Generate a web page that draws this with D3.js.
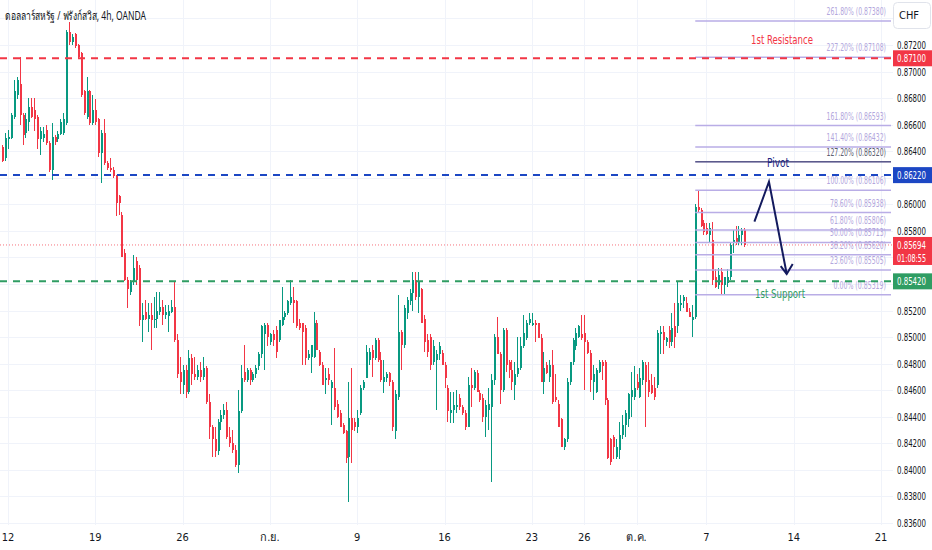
<!DOCTYPE html>
<html>
<head>
<meta charset="utf-8">
<script src="https://cdn.jsdelivr.net/npm/d3@7"></script>
<style>
  body { margin: 0; background: #fff; }
  svg { display: block; font-family: "Noto Sans", "DejaVu Sans", sans-serif; }
  .narrow { font-family: "Liberation Sans Narrow", "DejaVu Sans Condensed", "Liberation Sans", sans-serif; }
</style>
</head>
<body>
<div id="chart-container"></div>
<script>
// USDCHF 4h candles, [open, high, low, close]
const ohlc = [
  [.8643,.8645,.8632,.8633],[.8635,.8654,.8633,.8650],[.8649,.8656,.8642,.8651],[.8650,.8669,.8649,.8667],
  [.8666,.8694,.8664,.8685],[.8682,.8696,.8679,.8694],[.8691,.8711,.8660,.8667],[.8667,.8669,.8645,.8652],
  [.8654,.8669,.8650,.8664],[.8662,.8680,.8655,.8673],[.8673,.8680,.8665,.8666],[.8671,.8680,.8655,.8664],
  [.8666,.8667,.8642,.8649],[.8649,.8658,.8637,.8655],[.8650,.8658,.8647,.8653],[.8656,.8660,.8645,.8646],
  [.8646,.8648,.8624,.8626],[.8626,.8661,.8618,.8651],[.8651,.8652,.8645,.8647],[.8649,.8655,.8647,.8653],
  [.8653,.8664,.8652,.8662],[.8654,.8669,.8652,.8664],[.8661,.8731,.8660,.8730],[.8730,.8737,.8720,.8722],
  [.8722,.8728,.8720,.8726],[.8728,.8729,.8718,.8719],[.8720,.8721,.8710,.8711],[.8714,.8715,.8681,.8682],
  [.8685,.8686,.8667,.8669],[.8666,.8696,.8664,.8685],[.8685,.8686,.8660,.8661],[.8661,.8682,.8660,.8671],
  [.8671,.8679,.8660,.8662],[.8664,.8665,.8636,.8639],[.8639,.8656,.8616,.8654],[.8654,.8664,.8630,.8631],
  [.8631,.8633,.8626,.8627],[.8627,.8635,.8624,.8626],[.8626,.8628,.8620,.8621],[.8621,.8622,.8591,.8601],
  [.8606,.8607,.8592,.8601],[.8592,.8594,.8560,.8560],[.8563,.8566,.8542,.8543],[.8543,.8545,.8522,.8536],
  [.8534,.8543,.8532,.8542],[.8542,.8562,.8539,.8552],[.8557,.8560,.8539,.8543],[.8552,.8554,.8508,.8513],
  [.8513,.8526,.8496,.8517],[.8519,.8528,.8513,.8514],[.8514,.8526,.8504,.8517],[.8517,.8526,.8490,.8513],
  [.8513,.8530,.8507,.8514],[.8514,.8534,.8507,.8520],[.8519,.8534,.8517,.8523],[.8523,.8528,.8509,.8517],
  [.8517,.8524,.8514,.8519],[.8516,.8524,.8504,.8520],[.8519,.8528,.8518,.8523],[.8523,.8542,.8496,.8498],
  [.8498,.8502,.8469,.8472],[.8474,.8485,.8457,.8466],[.8464,.8479,.8457,.8475],[.8475,.8479,.8454,.8459],
  [.8459,.8490,.8457,.8484],[.8484,.8487,.8464,.8472],[.8472,.8485,.8468,.8470],[.8470,.8479,.8468,.8475],
  [.8475,.8481,.8466,.8470],[.8470,.8485,.8468,.8477],[.8477,.8478,.8450,.8451],[.8451,.8457,.8423,.8432],
  [.8432,.8434,.8410,.8423],[.8423,.8432,.8410,.8414],[.8414,.8438,.8411,.8436],[.8436,.8445,.8430,.8441],
  [.8441,.8450,.8438,.8445],[.8445,.8451,.8423,.8425],[.8425,.8432,.8417,.8420],[.8420,.8430,.8413,.8415],
  [.8415,.8419,.8402,.8404],[.8404,.8460,.8398,.8444],[.8444,.8479,.8443,.8469],[.8474,.8494,.8466,.8468],
  [.8468,.8477,.8466,.8475],[.8475,.8477,.8464,.8468],[.8468,.8474,.8466,.8472],[.8472,.8479,.8469,.8477],
  [.8478,.8489,.8475,.8487],[.8487,.8509,.8484,.8508],[.8502,.8511,.8475,.8509],[.8509,.8511,.8493,.8500],
  [.8496,.8503,.8494,.8502],[.8502,.8505,.8493,.8498],[.8505,.8508,.8484,.8489],[.8498,.8513,.8496,.8513],
  [.8509,.8538,.8508,.8515],[.8515,.8520,.8513,.8518],[.8518,.8528,.8517,.8527],[.8526,.8543,.8524,.8530],
  [.8528,.8538,.8511,.8526],[.8527,.8528,.8507,.8508],[.8511,.8514,.8505,.8507],[.8511,.8511,.8479,.8504],
  [.8507,.8509,.8479,.8484],[.8484,.8490,.8483,.8487],[.8485,.8494,.8473,.8494],[.8485,.8519,.8484,.8511],
  [.8511,.8513,.8490,.8490],[.8489,.8490,.8478,.8479],[.8479,.8481,.8464,.8464],[.8468,.8477,.8457,.8469],
  [.8472,.8477,.8464,.8468],[.8462,.8468,.8434,.8466],[.8462,.8492,.8445,.8447],[.8450,.8453,.8439,.8440],
  [.8443,.8445,.8432,.8432],[.8434,.8435,.8427,.8428],[.8429,.8430,.8405,.8409],[.8410,.8466,.8376,.8439],
  [.8439,.8477,.8405,.8430],[.8436,.8439,.8429,.8432],[.8432,.8445,.8428,.8439],[.8443,.8464,.8441,.8462],
  [.8462,.8468,.8460,.8466],[.8469,.8494,.8469,.8489],[.8483,.8492,.8479,.8489],[.8490,.8494,.8470,.8484],
  [.8484,.8499,.8483,.8498],[.8498,.8499,.8481,.8483],[.8483,.8489,.8466,.8468],[.8466,.8483,.8458,.8470],
  [.8469,.8474,.8466,.8472],[.8473,.8474,.8463,.8466],[.8466,.8468,.8429,.8432],[.8429,.8460,.8423,.8457],
  [.8455,.8532,.8453,.8504],[.8504,.8505,.8475,.8494],[.8494,.8524,.8492,.8522],[.8518,.8530,.8514,.8528],
  [.8527,.8536,.8524,.8533],[.8533,.8549,.8520,.8543],[.8543,.8549,.8528,.8530],[.8530,.8549,.8518,.8542],
  [.8536,.8537,.8511,.8511],[.8514,.8517,.8489,.8496],[.8498,.8502,.8485,.8489],[.8500,.8502,.8475,.8479],
  [.8481,.8498,.8479,.8493],[.8483,.8490,.8445,.8487],[.8487,.8496,.8483,.8493],[.8488,.8490,.8479,.8479],
  [.8479,.8481,.8462,.8469],[.8462,.8464,.8436,.8444],[.8443,.8459,.8435,.8445],[.8445,.8459,.8435,.8449],
  [.8447,.8460,.8443,.8449],[.8454,.8457,.8445,.8447],[.8447,.8449,.8441,.8443],[.8443,.8445,.8430,.8432],
  [.8432,.8470,.8432,.8464],[.8464,.8477,.8447,.8462],[.8462,.8475,.8460,.8474],[.8473,.8475,.8459,.8459],
  [.8458,.8460,.8451,.8453],[.8454,.8457,.8436,.8440],[.8440,.8453,.8425,.8449],[.8445,.8462,.8430,.8450],
  [.8447,.8472,.8391,.8468],[.8468,.8502,.8464,.8500],[.8500,.8515,.8487,.8487],[.8487,.8489,.8450,.8460],
  [.8460,.8507,.8459,.8505],[.8505,.8507,.8474,.8479],[.8481,.8483,.8469,.8475],[.8475,.8483,.8460,.8466],
  [.8464,.8481,.8453,.8472],[.8472,.8500,.8470,.8477],[.8477,.8500,.8475,.8493],[.8493,.8517,.8492,.8503],
  [.8499,.8513,.8498,.8511],[.8511,.8518,.8509,.8514],[.8509,.8518,.8508,.8511],[.8511,.8513,.8496,.8509],
  [.8511,.8511,.8499,.8499],[.8499,.8502,.8466,.8466],[.8466,.8489,.8457,.8477],[.8479,.8481,.8472,.8473],
  [.8470,.8483,.8466,.8479],[.8479,.8490,.8450,.8451],[.8455,.8472,.8451,.8453],[.8450,.8453,.8432,.8432],
  [.8438,.8439,.8417,.8417],[.8417,.8424,.8415,.8423],[.8423,.8469,.8421,.8466],[.8466,.8481,.8464,.8481],
  [.8481,.8499,.8479,.8498],[.8493,.8507,.8490,.8503],[.8500,.8509,.8499,.8508],[.8502,.8517,.8498,.8499],
  [.8503,.8517,.8460,.8496],[.8496,.8498,.8487,.8488],[.8488,.8490,.8459,.8468],[.8466,.8479,.8453,.8472],
  [.8459,.8477,.8458,.8475],[.8474,.8483,.8473,.8481],[.8481,.8483,.8468,.8478],[.8481,.8483,.8449,.8453],
  [.8453,.8454,.8408,.8409],[.8423,.8424,.8404,.8406],[.8425,.8426,.8408,.8417],[.8410,.8423,.8408,.8417],
  [.8415,.8436,.8408,.8426],[.8426,.8441,.8423,.8434],[.8434,.8445,.8425,.8443],[.8438,.8458,.8432,.8457],
  [.8455,.8474,.8440,.8460],[.8455,.8478,.8453,.8462],[.8466,.8472,.8460,.8462],[.8455,.8477,.8454,.8469],
  [.8468,.8483,.8464,.8481],[.8479,.8481,.8432,.8466],[.8468,.8481,.8455,.8459],[.8464,.8472,.8457,.8458],
  [.8462,.8470,.8453,.8455],[.8464,.8505,.8462,.8503],[.8502,.8508,.8487,.8504],[.8504,.8508,.8487,.8498],
  [.8496,.8500,.8493,.8499],[.8505,.8508,.8492,.8496],[.8496,.8518,.8493,.8507],[.8508,.8526,.8492,.8500],
  [.8508,.8542,.8503,.8526],[.8524,.8532,.8520,.8526],[.8527,.8532,.8522,.8530],[.8526,.8530,.8519,.8519],
  [.8519,.8522,.8515,.8515],[.8513,.8524,.8500,.8515],[.8515,.8600,.8514,.8598],[.8598,.8611,.8594,.8596],
  [.8596,.8597,.8583,.8584],[.8586,.8588,.8577,.8579],[.8582,.8586,.8577,.8578],[.8577,.8586,.8571,.8582],
  [.8573,.8587,.8539,.8543],[.8545,.8551,.8537,.8538],[.8539,.8552,.8536,.8547],[.8549,.8552,.8532,.8539],
  [.8539,.8543,.8532,.8545],[.8541,.8551,.8538,.8545],[.8545,.8571,.8543,.8569],[.8571,.8581,.8563,.8573],
  [.8575,.8584,.8569,.8572],[.8572,.8584,.8569,.8577],[.8577,.8582,.8569,.8581],[.8581,.8582,.8568,.85694]
];

// date labels and the bar index they sit on
const dateLabels = ["12", "19", "26", "ก.ย.", "9", "16", "23", "26", "ต.ค.", "7", "14", "21"];
const dateBars = [2, 32, 62, 92, 122, 152, 182, 200, 218, 242, 272, 302];

const priceTicks = [0.836, 0.838, 0.840, 0.842, 0.844, 0.846, 0.848, 0.850, 0.852, 0.854, 0.856,
  0.858, 0.860, 0.862, 0.864, 0.866, 0.868, 0.870, 0.872, 0.874];
const hiddenTicks = [0.854, 0.856, 0.862, 0.874];

const levelNames = ["1st Resistance", "Pivot", "1st Support"];
const levelPrices = [0.87100, 0.86220, 0.85420];
const levelColors = ["#f23645", "#1c47c4", "#2f9d63"];

const fibRatios = ["261.80%", "227.20%", "161.80%", "141.40%", "127.20%", "100.00%",
  "78.60%", "61.80%", "50.00%", "38.20%", "23.60%", "0.00%"];
const fibPrices = [0.87380, 0.87108, 0.86593, 0.86432, 0.86320, 0.86106,
  0.85938, 0.85806, 0.85713, 0.85620, 0.85505, 0.85319];
const fibStartBar = 238;

const lastPrice = 0.85694;
const countdown = "01:08:55";

// arrow drawing anchor points: [bar, price]
const arrowPoints = [[258.5, 0.8587], [263.5, 0.8617], [269.6, 0.85475]];

const W = 932, H = 550;
const plotRight = 893, plotBottom = 525;
const green = "#089981", red = "#f23645";

const svg = d3.select("#chart-container").append("svg")
  .attr("width", W).attr("height", H);

const y = d3.scaleLinear().domain([0.836, 0.872]).range([523, 45]);
const x = d3.scaleLinear().domain([0, 255]).range([2.18, 2.18 + 2.91 * 255]);

svg.append("clipPath").attr("id", "plot")
  .append("rect").attr("width", plotRight).attr("height", plotBottom);

const plot = svg.append("g").attr("clip-path", "url(#plot)");

// grid
plot.selectAll(".hgrid").data(priceTicks).join("line")
  .attr("x1", 0).attr("x2", plotRight)
  .attr("y1", d => Math.round(y(d)) + 0.5).attr("y2", d => Math.round(y(d)) + 0.5)
  .attr("stroke", "#f0f3fa");
plot.selectAll(".vgrid").data(dateBars).join("line")
  .attr("x1", d => Math.round(x(d)) + 0.5).attr("x2", d => Math.round(x(d)) + 0.5)
  .attr("y1", 0).attr("y2", plotBottom)
  .attr("stroke", "#f0f3fa");

// current price line
plot.append("line")
  .attr("x1", 0).attr("x2", plotRight)
  .attr("y1", y(lastPrice)).attr("y2", y(lastPrice))
  .attr("stroke", red).attr("stroke-opacity", 0.7)
  .attr("stroke-dasharray", "1,2");

// candles
const candle = plot.selectAll(".candle").data(ohlc).join("g")
  .attr("shape-rendering", "crispEdges");

candle.append("line")
  .attr("x1", (d, i) => Math.round(x(i)) + 0.5)
  .attr("x2", (d, i) => Math.round(x(i)) + 0.5)
  .attr("y1", d => y(d[1])).attr("y2", d => y(d[2]))
  .attr("stroke", d => d[3] >= d[0] ? green : red);

candle.append("rect")
  .attr("x", (d, i) => Math.round(x(i)))
  .attr("width", 2)
  .attr("y", d => y(Math.max(d[0], d[3])))
  .attr("height", d => Math.max(1, Math.abs(y(d[0]) - y(d[3]))))
  .attr("fill", d => d[3] >= d[0] ? green : red);

// fib levels
const fibX1 = x(fibStartBar) + 0.5;
const fibX2 = 891;
plot.selectAll(".fib").data(fibPrices).join("line")
  .attr("x1", fibX1).attr("x2", fibX2)
  .attr("y1", d => y(d)).attr("y2", d => y(d))
  .attr("stroke", "#b9ade6").attr("stroke-width", 1.5);

const fibText = (d, i) => `${fibRatios[i]} (${d.toFixed(5)})`;
plot.selectAll(".fibLabel").data(fibPrices).join("text")
  .attr("class", "narrow")
  .attr("x", 886).attr("y", d => y(d) - 6)
  .attr("text-anchor", "end")
  .attr("textLength", (d, i) => fibText(d, i).length * 3.5)
  .attr("lengthAdjust", "spacingAndGlyphs")
  .style("font-size", "10px")
  .style("fill", (d, i) => fibRatios[i] === "127.20%" ? "#5d6070" : "#b3a7dd")
  .text(fibText);

// pivot line drawn over the 127.2% level
plot.append("line")
  .attr("x1", fibX1).attr("x2", fibX2)
  .attr("y1", y(0.8632)).attr("y2", y(0.8632))
  .attr("stroke", "#2a2e5c").attr("stroke-width", 1);

// support / resistance dashed levels
plot.selectAll(".level").data(levelPrices).join("line")
  .attr("x1", 0).attr("x2", plotRight)
  .attr("y1", d => y(d)).attr("y2", d => y(d))
  .attr("stroke", (d, i) => levelColors[i])
  .attr("stroke-width", 2)
  .attr("stroke-dasharray", "7,6");

// level names
const levelLabelPos = [[782, 44], [778, 167], [780, 298]];
const levelLabelLen = [62, 22, 50];
plot.selectAll(".levelName").data(levelNames).join("text")
  .attr("class", "narrow")
  .attr("x", (d, i) => levelLabelPos[i][0])
  .attr("y", (d, i) => levelLabelPos[i][1])
  .attr("text-anchor", "middle")
  .attr("textLength", (d, i) => levelLabelLen[i])
  .attr("lengthAdjust", "spacingAndGlyphs")
  .style("font-size", "13px")
  .style("fill", (d, i) => i === 1 ? "#1a237e" : levelColors[i])
  .text(d => d);

// arrow
const arrowPath = arrowPoints.map(p => [x(p[0]), y(p[1])]);
plot.append("path")
  .attr("d", d3.line()(arrowPath))
  .attr("fill", "none").attr("stroke", "#131a5e").attr("stroke-width", 2)
  .attr("stroke-linejoin", "miter");
const tip = arrowPath[2];
plot.append("path")
  .attr("d", d3.line()([[tip[0] - 6, tip[1] - 8], tip, [tip[0] + 6, tip[1] - 10]]))
  .attr("fill", "none").attr("stroke", "#131a5e").attr("stroke-width", 2);

// title
svg.append("text")
  .attr("x", 5).attr("y", 20)
  .attr("textLength", 141).attr("lengthAdjust", "spacingAndGlyphs")
  .style("font-size", "12px").style("fill", "#131722")
  .text("ดอลลาร์สหรัฐ / ฟรังก์สวิส, 4h, OANDA");

// price axis
const axisText = sel => sel
  .attr("class", "narrow")
  .attr("textLength", 29).attr("lengthAdjust", "spacingAndGlyphs")
  .style("font-size", "11px");

svg.selectAll(".ptick").data(priceTicks.filter(d => !hiddenTicks.includes(d))).join("text")
  .attr("x", 897).attr("y", d => y(d) + 4)
  .call(axisText)
  .style("fill", "#131722")
  .text(d => d.toFixed(5));

const boxes = [
  { price: levelPrices[0], color: levelColors[0] },
  { price: levelPrices[1], color: levelColors[1] },
  { price: levelPrices[2], color: levelColors[2] }
];
const box = svg.selectAll(".pbox").data(boxes).join("g");
box.append("rect")
  .attr("x", 893).attr("y", d => y(d.price) - 8)
  .attr("width", 39).attr("height", 16)
  .attr("fill", d => d.color);
box.append("text")
  .attr("x", 897).attr("y", d => y(d.price) + 4)
  .call(axisText)
  .style("fill", "#fff")
  .text(d => d.price.toFixed(5));

svg.append("rect")
  .attr("x", 893).attr("y", y(lastPrice) - 8)
  .attr("width", 39).attr("height", 28)
  .attr("fill", red);
svg.append("text")
  .attr("x", 897).attr("y", y(lastPrice) + 4)
  .call(axisText)
  .style("fill", "#fff")
  .text(lastPrice.toFixed(5));
svg.append("text")
  .attr("x", 897).attr("y", y(lastPrice) + 17)
  .call(axisText)
  .style("fill", "#fff")
  .text(countdown);

svg.append("rect")
  .attr("x", 893.5).attr("y", 2.5).attr("width", 37).attr("height", 26).attr("rx", 4)
  .attr("fill", "#fff").attr("stroke", "#e0e3eb");
svg.append("text")
  .attr("class", "narrow")
  .attr("x", 899).attr("y", 19)
  .style("font-size", "11px").style("fill", "#131722")
  .text("CHF");

// time axis
svg.selectAll(".dtick").data(dateLabels).join("text")
  .attr("class", "narrow")
  .attr("x", (d, i) => x(dateBars[i]))
  .attr("y", 541)
  .attr("text-anchor", "middle")
  .style("font-size", "11px").style("fill", "#131722")
  .text(d => d);
</script>
</body>
</html>
